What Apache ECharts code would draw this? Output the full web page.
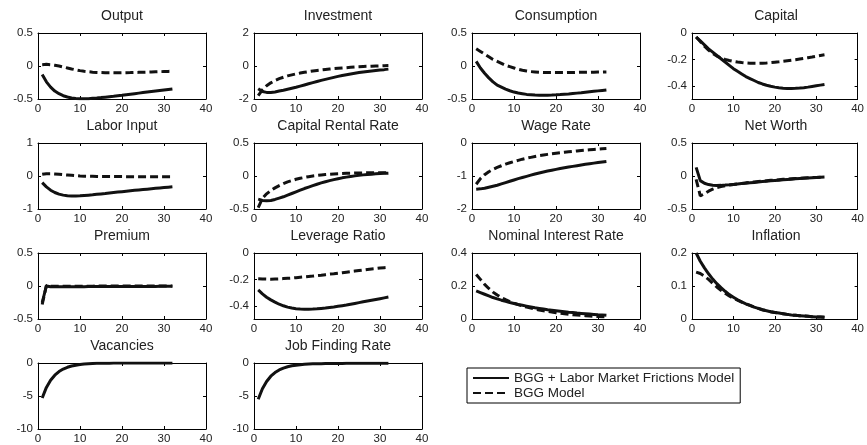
<!DOCTYPE html>
<html><head><meta charset="utf-8">
<script src="https://cdn.jsdelivr.net/npm/echarts@6/dist/echarts.min.js"></script>
<style>html,body{margin:0;padding:0;background:#fff}#c{width:867px;height:445px}</style>
</head><body><div id="c"></div>
<script>
const periods = [1,2,3,4,5,6,7,8,9,10,11,12,13,14,15,16,17,18,19,20,21,22,23,24,25,26,27,28,29,30,31,32];
const xTicks = [0,10,20,30,40];
const nameFull = 'BGG + Labor Market Frictions Model';
const nameBGG = 'BGG Model';

const titles = ['Output','Investment','Consumption','Capital','Labor Input','Capital Rental Rate','Wage Rate','Net Worth','Premium','Leverage Ratio','Nominal Interest Rate','Inflation','Vacancies','Job Finding Rate'];
const yMins = [-0.5,-2,-0.5,-0.5,-1,-0.5,-2,-0.5,-0.5,-0.5,0,0,-10,-10];
const yMaxs = [0.5,2,0.5,0,1,0.5,0,0.5,0.5,0,0.4,0.2,0,0];
const yTickValues = [[-0.5,0,0.5],[-2,0,2],[-0.5,0,0.5],[-0.4,-0.2,0],[-1,0,1],[-0.5,0,0.5],[-2,-1,0],[-0.5,0,0.5],[-0.5,0,0.5],[-0.4,-0.2,0],[0,0.2,0.4],[0,0.1,0.2],[-10,-5,0],[-10,-5,0]];

const outputFull = [-0.13,-0.24,-0.32,-0.38,-0.42,-0.45,-0.47,-0.485,-0.492,-0.496,-0.497,-0.495,-0.49,-0.485,-0.479,-0.472,-0.465,-0.458,-0.45,-0.443,-0.435,-0.427,-0.419,-0.411,-0.403,-0.395,-0.387,-0.379,-0.371,-0.363,-0.355,-0.347];
const outputBGG = [0.02,0.025,0.02,0.01,0.0,-0.015,-0.03,-0.045,-0.058,-0.07,-0.08,-0.087,-0.093,-0.097,-0.1,-0.102,-0.103,-0.103,-0.103,-0.102,-0.101,-0.1,-0.098,-0.096,-0.094,-0.092,-0.09,-0.088,-0.086,-0.084,-0.082,-0.08];
const investmentFull = [-1.38,-1.55,-1.6,-1.6,-1.57,-1.52,-1.47,-1.41,-1.35,-1.29,-1.22,-1.15,-1.08,-1.01,-0.94,-0.87,-0.81,-0.75,-0.69,-0.63,-0.58,-0.53,-0.48,-0.44,-0.4,-0.36,-0.33,-0.3,-0.27,-0.24,-0.22,-0.19];
const investmentBGG = [-1.8,-1.45,-1.2,-1.02,-0.88,-0.77,-0.68,-0.6,-0.54,-0.48,-0.43,-0.38,-0.34,-0.3,-0.27,-0.24,-0.21,-0.18,-0.16,-0.14,-0.12,-0.1,-0.08,-0.06,-0.05,-0.03,-0.02,-0.01,0.0,0.01,0.02,0.03];
const consumptionFull = [0.07,-0.03,-0.11,-0.18,-0.24,-0.29,-0.32,-0.35,-0.375,-0.395,-0.41,-0.42,-0.43,-0.435,-0.44,-0.442,-0.443,-0.442,-0.44,-0.437,-0.433,-0.428,-0.423,-0.417,-0.411,-0.405,-0.398,-0.391,-0.384,-0.377,-0.37,-0.363];
const consumptionBGG = [0.26,0.22,0.18,0.14,0.1,0.07,0.04,0.01,-0.01,-0.03,-0.05,-0.065,-0.075,-0.085,-0.09,-0.095,-0.098,-0.1,-0.1,-0.1,-0.1,-0.1,-0.099,-0.098,-0.097,-0.096,-0.095,-0.094,-0.093,-0.092,-0.091,-0.09];
const capitalFull = [-0.03,-0.06,-0.09,-0.12,-0.145,-0.17,-0.195,-0.22,-0.245,-0.27,-0.29,-0.31,-0.33,-0.345,-0.36,-0.375,-0.386,-0.396,-0.404,-0.41,-0.415,-0.418,-0.42,-0.42,-0.419,-0.417,-0.414,-0.41,-0.405,-0.4,-0.395,-0.39];
const capitalBGG = [-0.03,-0.065,-0.1,-0.13,-0.155,-0.175,-0.19,-0.2,-0.208,-0.215,-0.22,-0.224,-0.227,-0.229,-0.23,-0.23,-0.229,-0.227,-0.224,-0.221,-0.218,-0.214,-0.21,-0.206,-0.202,-0.197,-0.192,-0.187,-0.182,-0.176,-0.17,-0.165];
const laborFull = [-0.2,-0.33,-0.43,-0.5,-0.55,-0.58,-0.6,-0.605,-0.605,-0.6,-0.59,-0.58,-0.57,-0.556,-0.543,-0.53,-0.515,-0.5,-0.487,-0.474,-0.461,-0.448,-0.435,-0.422,-0.41,-0.398,-0.386,-0.374,-0.362,-0.35,-0.338,-0.326];
const laborBGG = [0.05,0.07,0.07,0.06,0.05,0.04,0.03,0.02,0.01,0.0,-0.005,-0.008,-0.01,-0.012,-0.014,-0.015,-0.016,-0.017,-0.018,-0.018,-0.019,-0.019,-0.02,-0.02,-0.02,-0.02,-0.02,-0.02,-0.02,-0.02,-0.02,-0.02];
const rentalFull = [-0.35,-0.37,-0.375,-0.37,-0.355,-0.335,-0.315,-0.29,-0.265,-0.24,-0.215,-0.19,-0.168,-0.146,-0.125,-0.105,-0.087,-0.07,-0.055,-0.041,-0.028,-0.017,-0.007,0.002,0.01,0.017,0.023,0.028,0.033,0.037,0.04,0.043];
const rentalBGG = [-0.48,-0.34,-0.27,-0.22,-0.18,-0.145,-0.115,-0.09,-0.07,-0.05,-0.035,-0.022,-0.01,0.0,0.008,0.015,0.021,0.026,0.03,0.034,0.037,0.04,0.042,0.044,0.046,0.047,0.048,0.049,0.05,0.05,0.05,0.05];
const wageFull = [-1.4,-1.39,-1.37,-1.34,-1.31,-1.28,-1.24,-1.2,-1.16,-1.12,-1.08,-1.045,-1.01,-0.975,-0.94,-0.91,-0.88,-0.85,-0.825,-0.8,-0.775,-0.752,-0.73,-0.708,-0.687,-0.667,-0.647,-0.628,-0.61,-0.592,-0.575,-0.558];
const wageBGG = [-1.25,-1.08,-0.96,-0.87,-0.8,-0.74,-0.69,-0.64,-0.6,-0.56,-0.525,-0.49,-0.46,-0.435,-0.41,-0.385,-0.365,-0.345,-0.325,-0.31,-0.295,-0.28,-0.265,-0.252,-0.24,-0.228,-0.217,-0.206,-0.196,-0.186,-0.177,-0.168];
const netWorthFull = [0.13,-0.07,-0.11,-0.13,-0.14,-0.143,-0.142,-0.138,-0.133,-0.127,-0.121,-0.115,-0.109,-0.103,-0.097,-0.091,-0.085,-0.079,-0.073,-0.068,-0.063,-0.058,-0.053,-0.048,-0.043,-0.039,-0.035,-0.031,-0.027,-0.023,-0.02,-0.017];
const netWorthBGG = [-0.05,-0.3,-0.27,-0.23,-0.2,-0.175,-0.16,-0.148,-0.138,-0.128,-0.12,-0.112,-0.104,-0.097,-0.09,-0.084,-0.078,-0.072,-0.066,-0.061,-0.056,-0.051,-0.046,-0.042,-0.038,-0.034,-0.03,-0.027,-0.024,-0.021,-0.018,-0.015];
const premiumFull = [-0.25,0.0,-0.012,-0.012,-0.011,-0.011,-0.011,-0.01,-0.01,-0.01,-0.01,-0.009,-0.009,-0.009,-0.009,-0.008,-0.008,-0.008,-0.008,-0.007,-0.007,-0.007,-0.007,-0.006,-0.006,-0.006,-0.006,-0.006,-0.005,-0.005,-0.005,-0.005];
const premiumBGG = [-0.28,0.01,-0.005,-0.004,-0.004,-0.003,-0.003,-0.003,-0.002,-0.002,-0.002,-0.002,-0.002,-0.001,-0.001,-0.001,-0.001,-0.001,-0.001,-0.001,0,0,0,0,0,0,0,0,0,0,0,0];
const leverageFull = [-0.28,-0.31,-0.335,-0.355,-0.372,-0.388,-0.4,-0.41,-0.417,-0.422,-0.425,-0.426,-0.426,-0.425,-0.423,-0.42,-0.417,-0.413,-0.409,-0.404,-0.399,-0.394,-0.388,-0.382,-0.376,-0.37,-0.364,-0.358,-0.352,-0.346,-0.34,-0.334];
const leverageBGG = [-0.195,-0.197,-0.198,-0.198,-0.197,-0.196,-0.194,-0.192,-0.19,-0.187,-0.184,-0.181,-0.178,-0.175,-0.171,-0.168,-0.164,-0.16,-0.157,-0.153,-0.149,-0.145,-0.141,-0.137,-0.133,-0.129,-0.125,-0.121,-0.118,-0.114,-0.111,-0.108];
const nominalFull = [0.17,0.16,0.15,0.14,0.13,0.122,0.114,0.107,0.1,0.094,0.088,0.083,0.078,0.073,0.068,0.064,0.06,0.056,0.053,0.05,0.047,0.044,0.041,0.039,0.036,0.034,0.032,0.03,0.028,0.026,0.025,0.023];
const nominalBGG = [0.27,0.24,0.21,0.185,0.163,0.145,0.13,0.117,0.106,0.096,0.087,0.079,0.072,0.066,0.06,0.055,0.05,0.046,0.042,0.038,0.035,0.032,0.029,0.026,0.024,0.022,0.02,0.018,0.016,0.015,0.014,0.013];
const inflationFull = [0.2,0.175,0.155,0.137,0.121,0.107,0.095,0.084,0.074,0.066,0.058,0.052,0.046,0.041,0.036,0.032,0.028,0.025,0.022,0.02,0.018,0.016,0.014,0.012,0.011,0.01,0.009,0.008,0.007,0.006,0.006,0.005];
const inflationBGG = [0.142,0.138,0.13,0.12,0.108,0.097,0.087,0.078,0.07,0.063,0.057,0.051,0.046,0.041,0.036,0.032,0.028,0.025,0.022,0.02,0.018,0.016,0.014,0.012,0.011,0.01,0.009,0.008,0.007,0.006,0.006,0.005];
const vacanciesFull = [-5.3,-3.7,-2.6,-1.85,-1.3,-0.92,-0.65,-0.46,-0.33,-0.23,-0.16,-0.11,-0.08,-0.055,-0.04,-0.03,-0.02,-0.015,-0.01,-0.008,-0.006,-0.005,-0.004,-0.003,-0.002,-0.002,-0.001,-0.001,0,0,0,0];
const jobFindingFull = [-5.5,-3.9,-2.8,-2.0,-1.45,-1.05,-0.77,-0.57,-0.43,-0.33,-0.26,-0.2,-0.16,-0.13,-0.11,-0.095,-0.085,-0.077,-0.07,-0.065,-0.06,-0.056,-0.053,-0.05,-0.048,-0.046,-0.044,-0.042,-0.04,-0.039,-0.038,-0.037];

const fullSeries = [outputFull,investmentFull,consumptionFull,capitalFull,laborFull,rentalFull,wageFull,netWorthFull,premiumFull,leverageFull,nominalFull,inflationFull,vacanciesFull,jobFindingFull];
const bggSeries = [outputBGG,investmentBGG,consumptionBGG,capitalBGG,laborBGG,rentalBGG,wageBGG,netWorthBGG,premiumBGG,leverageBGG,nominalBGG,inflationBGG,null,null];

const colLeft = [38,254,472,692];
const rowTop = [33,143,253,363];
const gW = 168, gH = 66;
const font = 'Liberation Sans, Arial, Helvetica, sans-serif';
const txt = '#222';

const grid=[], xAxis=[], yAxis=[], series=[], title=[];
titles.forEach((t,i)=>{
  const r = Math.floor(i/4), c = i%4;
  grid.push({left:colLeft[c], top:rowTop[r], width:gW, height:gH, containLabel:false});
  title.push({text:t, left:colLeft[c]+gW/2, top:rowTop[r]-24, textAlign:'center', padding:0,
    textStyle:{fontSize:14, fontWeight:'normal', color:txt, fontFamily:font}});
  const axLine = {show:true, onZero:false, lineStyle:{color:'#000', width:1}};
  const xt = {show:true, inside:true, length:3, lineStyle:{color:'#000'}, customValues:xTicks};
  const yt = {show:true, inside:true, length:3, lineStyle:{color:'#000'}, customValues:yTickValues[i]};
  xAxis.push({type:'value', gridIndex:i, min:0, max:40, interval:10, position:'bottom',
    axisLine:axLine, axisTick:xt, splitLine:{show:false},
    axisLabel:{fontSize:11.5, color:txt, fontFamily:font, margin:4, customValues:xTicks}});
  xAxis.push({type:'value', gridIndex:i, min:0, max:40, interval:10, position:'top',
    axisLine:axLine, axisTick:xt, splitLine:{show:false}, axisLabel:{show:false}});
  yAxis.push({type:'value', gridIndex:i, min:yMins[i], max:yMaxs[i], position:'left',
    axisLine:axLine, axisTick:yt, splitLine:{show:false},
    axisLabel:{fontSize:11.5, color:txt, fontFamily:font, margin:5, customValues:yTickValues[i]}});
  yAxis.push({type:'value', gridIndex:i, min:yMins[i], max:yMaxs[i], position:'right',
    axisLine:axLine, axisTick:yt, splitLine:{show:false}, axisLabel:{show:false}});
  series.push({name:nameFull, type:'line', xAxisIndex:2*i, yAxisIndex:2*i, symbol:'none', smooth:false,
    data: periods.map((p,k)=>[p, fullSeries[i][k]]), lineStyle:{color:'#111', width:3, type:'solid'}, itemStyle:{color:'#111'}, z:3});
  if (bggSeries[i]) {
    series.push({name:nameBGG, type:'line', xAxisIndex:2*i, yAxisIndex:2*i, symbol:'none', smooth:false,
      data: periods.map((p,k)=>[p, bggSeries[i][k]]), lineStyle:{color:'#111', width:3, type:[8,4]}, itemStyle:{color:'#111'}, z:2});
  }
});

const chart = echarts.init(document.getElementById('c'), null, {renderer:'canvas'});
chart.setOption({
  animation:false,
  backgroundColor:'#fff',
  title, grid, xAxis, yAxis, series,
  legend:{data:[nameFull,nameBGG], orient:'vertical', left:467, top:368, itemWidth:36, itemHeight:10, itemGap:1,
    padding:[3,6,3,5], borderColor:'#000', borderWidth:1, itemStyle:{opacity:0},
    textStyle:{fontSize:13.5, color:txt, fontFamily:font}}
});
</script></body></html>
